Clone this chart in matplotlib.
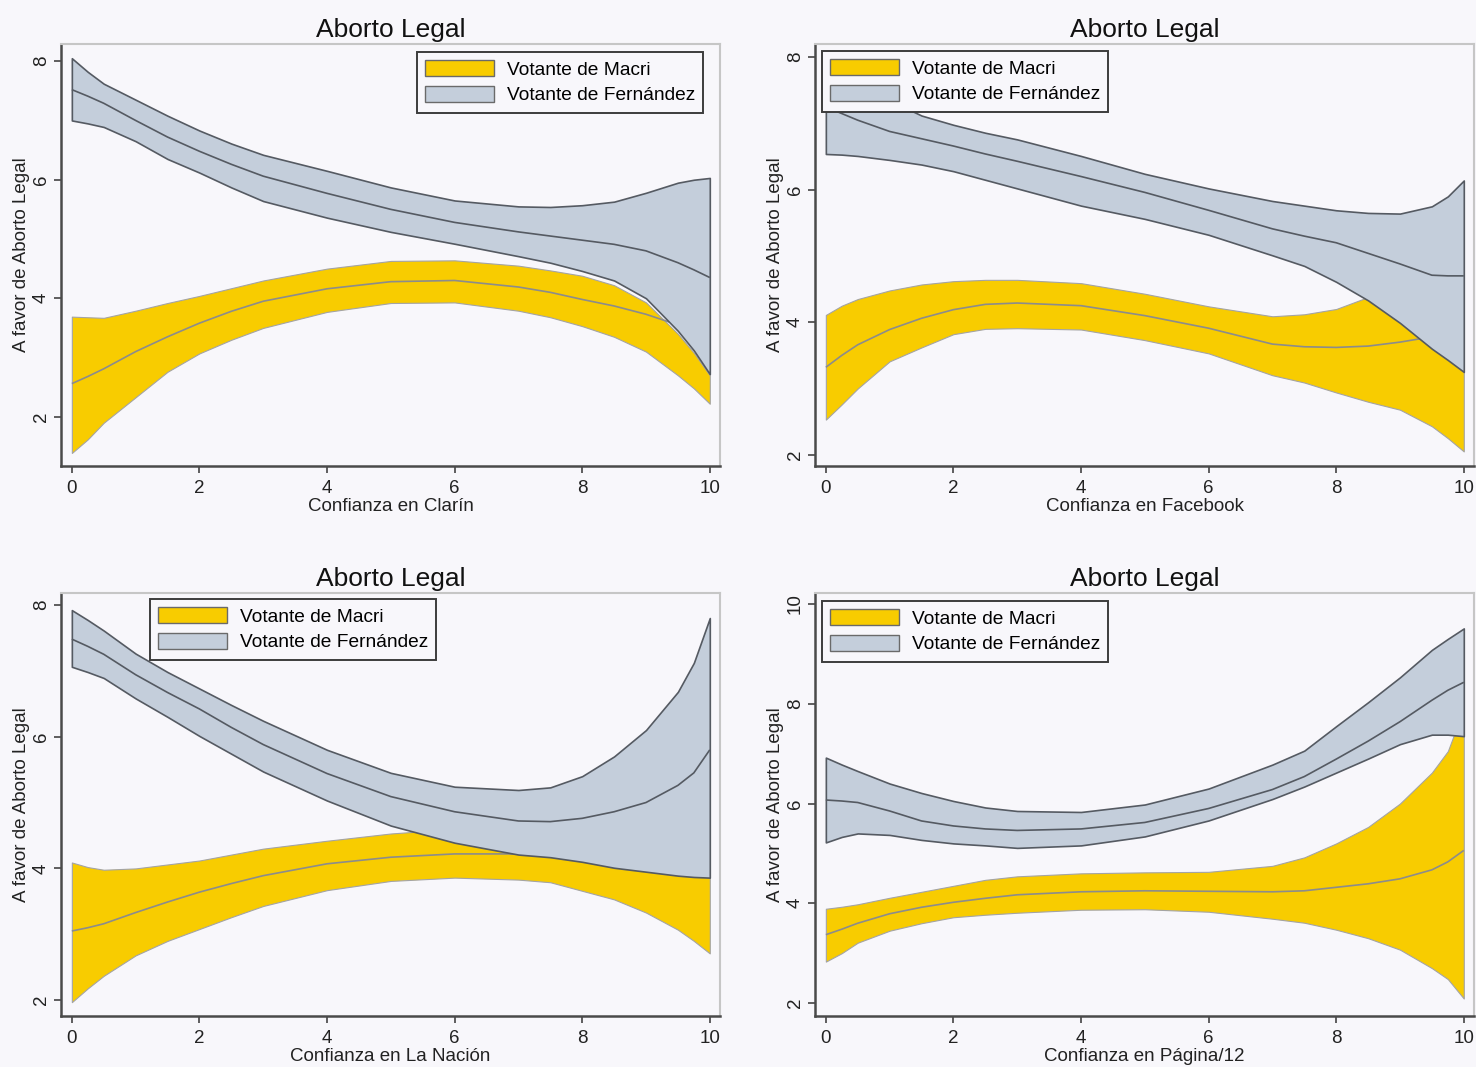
import matplotlib
matplotlib.use("Agg")
import matplotlib.pyplot as plt
import numpy as np

plt.rcParams["font.family"] = ["Liberation Sans", "DejaVu Sans"]
plt.rcParams["lines.solid_capstyle"] = "butt"

BG = "#f8f7fb"
YELLOW = "#f8cc00"
GREYBLUE = "#c4cedb"

# puntos de la rejilla (confianza 0-10)
x = [0, 0.25, 0.5, 1, 1.5, 2, 2.5, 3, 4, 5, 6, 7, 7.5, 8, 8.5, 9, 9.5, 9.75, 10]

# --- Clarín ---
clarin_macri_hi = [3.69, 3.68, 3.67, 3.79, 3.92, 4.04, 4.17, 4.30, 4.50, 4.63, 4.64, 4.55, 4.47, 4.38, 4.22, 3.93, 3.40, 3.08, 2.70]
clarin_macri_mid = [2.56, 2.68, 2.81, 3.10, 3.35, 3.58, 3.78, 3.95, 4.16, 4.28, 4.30, 4.19, 4.10, 3.98, 3.87, 3.73, 3.55, 3.42, 3.25]
clarin_macri_lo = [1.39, 1.62, 1.90, 2.33, 2.76, 3.07, 3.30, 3.50, 3.77, 3.92, 3.93, 3.79, 3.68, 3.53, 3.35, 3.10, 2.70, 2.48, 2.22]
clarin_fern_hi = [8.05, 7.82, 7.62, 7.35, 7.08, 6.83, 6.61, 6.42, 6.15, 5.87, 5.65, 5.55, 5.54, 5.57, 5.63, 5.78, 5.95, 6.00, 6.03]
clarin_fern_mid = [7.52, 7.41, 7.29, 7.00, 6.72, 6.48, 6.26, 6.06, 5.77, 5.50, 5.28, 5.12, 5.05, 4.98, 4.91, 4.80, 4.60, 4.48, 4.35]
clarin_fern_lo = [7.00, 6.95, 6.89, 6.65, 6.35, 6.12, 5.87, 5.64, 5.36, 5.12, 4.92, 4.71, 4.60, 4.46, 4.30, 4.00, 3.45, 3.12, 2.72]

# --- Facebook ---
fb_macri_hi = [4.11, 4.25, 4.35, 4.48, 4.57, 4.62, 4.64, 4.64, 4.59, 4.43, 4.24, 4.09, 4.12, 4.20, 4.38, 4.65, 4.95, 5.10, 5.25]
fb_macri_mid = [3.32, 3.50, 3.66, 3.89, 4.06, 4.19, 4.27, 4.29, 4.25, 4.10, 3.91, 3.67, 3.63, 3.62, 3.64, 3.70, 3.78, 3.84, 3.90]
fb_macri_lo = [2.53, 2.76, 3.00, 3.41, 3.62, 3.82, 3.90, 3.91, 3.89, 3.73, 3.53, 3.20, 3.09, 2.94, 2.80, 2.68, 2.43, 2.25, 2.05]
fb_fern_hi = [7.90, 7.75, 7.60, 7.35, 7.12, 6.98, 6.86, 6.76, 6.51, 6.24, 6.02, 5.83, 5.76, 5.69, 5.65, 5.64, 5.75, 5.90, 6.14]
fb_fern_mid = [7.25, 7.15, 7.05, 6.88, 6.77, 6.66, 6.54, 6.43, 6.20, 5.96, 5.69, 5.41, 5.30, 5.20, 5.04, 4.88, 4.71, 4.70, 4.70]
fb_fern_lo = [6.54, 6.53, 6.51, 6.45, 6.38, 6.28, 6.15, 6.02, 5.76, 5.56, 5.32, 5.01, 4.85, 4.61, 4.33, 3.99, 3.60, 3.43, 3.25]

# --- La Nación ---
ln_macri_hi = [4.09, 4.02, 3.98, 4.00, 4.06, 4.12, 4.21, 4.30, 4.42, 4.53, 4.60, 4.60, 4.62, 4.65, 4.75, 4.90, 5.05, 5.12, 5.20]
ln_macri_mid = [3.05, 3.10, 3.16, 3.33, 3.49, 3.64, 3.77, 3.89, 4.07, 4.17, 4.22, 4.22, 4.20, 4.15, 4.10, 4.05, 4.00, 3.97, 3.95]
ln_macri_lo = [1.97, 2.18, 2.37, 2.68, 2.90, 3.08, 3.26, 3.43, 3.67, 3.81, 3.86, 3.83, 3.79, 3.66, 3.53, 3.33, 3.07, 2.90, 2.71]
ln_fern_hi = [7.92, 7.77, 7.61, 7.26, 6.98, 6.73, 6.48, 6.24, 5.80, 5.45, 5.24, 5.19, 5.23, 5.40, 5.70, 6.10, 6.68, 7.12, 7.80]
ln_fern_mid = [7.48, 7.37, 7.25, 6.94, 6.67, 6.42, 6.14, 5.88, 5.44, 5.09, 4.86, 4.72, 4.71, 4.76, 4.86, 5.00, 5.26, 5.45, 5.80]
ln_fern_lo = [7.06, 6.98, 6.89, 6.58, 6.30, 6.01, 5.74, 5.47, 5.03, 4.65, 4.39, 4.21, 4.17, 4.10, 4.01, 3.95, 3.89, 3.87, 3.86]

# --- Página/12 ---
p12_macri_hi = [3.89, 3.93, 3.98, 4.11, 4.23, 4.35, 4.47, 4.54, 4.60, 4.62, 4.63, 4.75, 4.92, 5.20, 5.53, 6.00, 6.62, 7.05, 7.90]
p12_macri_mid = [3.37, 3.48, 3.60, 3.79, 3.92, 4.02, 4.10, 4.17, 4.23, 4.25, 4.24, 4.23, 4.25, 4.32, 4.39, 4.49, 4.67, 4.83, 5.06]
p12_macri_lo = [2.83, 3.00, 3.21, 3.45, 3.60, 3.72, 3.77, 3.81, 3.87, 3.88, 3.83, 3.69, 3.61, 3.47, 3.30, 3.07, 2.70, 2.48, 2.09]
p12_fern_hi = [6.92, 6.78, 6.65, 6.40, 6.21, 6.05, 5.92, 5.85, 5.83, 5.98, 6.30, 6.78, 7.06, 7.55, 8.03, 8.53, 9.08, 9.30, 9.51]
p12_fern_mid = [6.07, 6.05, 6.02, 5.85, 5.65, 5.55, 5.49, 5.46, 5.49, 5.62, 5.90, 6.28, 6.54, 6.89, 7.25, 7.64, 8.07, 8.27, 8.43]
p12_fern_lo = [5.22, 5.33, 5.40, 5.37, 5.27, 5.20, 5.16, 5.11, 5.16, 5.34, 5.66, 6.09, 6.34, 6.62, 6.90, 7.19, 7.38, 7.38, 7.35]

W, H = 1476, 1067


def px_axes(fig, left, top, right, bottom):
    return fig.add_axes([left / W, 1 - bottom / H, (right - left) / W, (bottom - top) / H])


def draw_panel(ax, macri, fern, xlabel, ylim, yticks, leg_box):
    m_lo, m_mid, m_hi = macri
    f_lo, f_mid, f_hi = fern
    ax.set_facecolor(BG)

    ax.fill_between(x, m_lo, m_hi, color=YELLOW, edgecolor="#a4a4a4", linewidth=0.8,
                    label="Votante de Macri", zorder=2)
    ax.plot(x, m_mid, color="#8c8c8c", lw=1.2, zorder=3)

    # la banda de Fernández va encima, con su contorno
    ax.fill_between(x, f_lo, f_hi, facecolor=GREYBLUE, edgecolor="#555a62", linewidth=1.2,
                    label="Votante de Fernández", zorder=4)
    ax.plot(x, f_mid, color="#555a62", lw=1.2, zorder=5)

    ax.set_xlim(-0.17, 10.16)
    ax.set_ylim(*ylim)
    ax.set_xticks([0, 2, 4, 6, 8, 10])
    ax.set_yticks(yticks)
    ax.set_yticklabels([str(t) for t in yticks], rotation=90, va="center")
    ax.tick_params(direction="out", length=5, width=1.2, color="#444444",
                   labelsize=13.5, labelcolor="#222222")
    ax.tick_params(axis="x", pad=5)
    ax.tick_params(axis="y", pad=3)

    for s in ("left", "bottom"):
        ax.spines[s].set_color("#4a4a4a")
        ax.spines[s].set_linewidth(1.8)
    for s in ("top", "right"):
        ax.spines[s].set_color("#c6c6c6")
        ax.spines[s].set_linewidth(1.5)

    ax.set_title("Aborto Legal", fontsize=19, color="#111111", pad=5)
    ax.set_xlabel(xlabel, fontsize=13.5, color="#222222", labelpad=1)
    ax.set_ylabel("A favor de Aborto Legal", fontsize=13.5, color="#222222", labelpad=2)

    bx, by = leg_box
    leg = ax.legend(loc="upper left", bbox_to_anchor=(bx / W, 1 - by / H),
                    bbox_transform=ax.figure.transFigure, fontsize=13.8,
                    frameon=True, fancybox=False, framealpha=1,
                    handlelength=3.6, handleheight=0.9, handletextpad=0.65,
                    labelspacing=0.38, borderpad=0.42, borderaxespad=0)
    leg.get_frame().set_edgecolor("#3c3c3c")
    leg.get_frame().set_facecolor(BG)
    leg.get_frame().set_linewidth(1.4)
    for h in leg.legend_handles:
        h.set_edgecolor("#6a6a6a")
        h.set_linewidth(1.0)
    leg.set_zorder(10)


fig = plt.figure(figsize=(W / 100, H / 100), dpi=100, facecolor=BG)

ax1 = px_axes(fig, 61, 44, 720, 466)
draw_panel(ax1, (clarin_macri_lo, clarin_macri_mid, clarin_macri_hi),
           (clarin_fern_lo, clarin_fern_mid, clarin_fern_hi),
           "Confianza en Clarín", (1.17, 8.29), [2, 4, 6, 8], (417, 52))

ax2 = px_axes(fig, 815, 44, 1474, 466)
draw_panel(ax2, (fb_macri_lo, fb_macri_mid, fb_macri_hi),
           (fb_fern_lo, fb_fern_mid, fb_fern_hi),
           "Confianza en Facebook", (1.83, 8.2), [2, 4, 6, 8], (822, 51))

ax3 = px_axes(fig, 61, 593, 720, 1016)
draw_panel(ax3, (ln_macri_lo, ln_macri_mid, ln_macri_hi),
           (ln_fern_lo, ln_fern_mid, ln_fern_hi),
           "Confianza en La Nación", (1.76, 8.18), [2, 4, 6, 8], (150, 599))

ax4 = px_axes(fig, 815, 593, 1474, 1016)
draw_panel(ax4, (p12_macri_lo, p12_macri_mid, p12_macri_hi),
           (p12_fern_lo, p12_fern_mid, p12_fern_hi),
           "Confianza en Página/12", (1.74, 10.22), [2, 4, 6, 8, 10], (822, 601))

fig.savefig("out.png", dpi=100, facecolor=BG)
